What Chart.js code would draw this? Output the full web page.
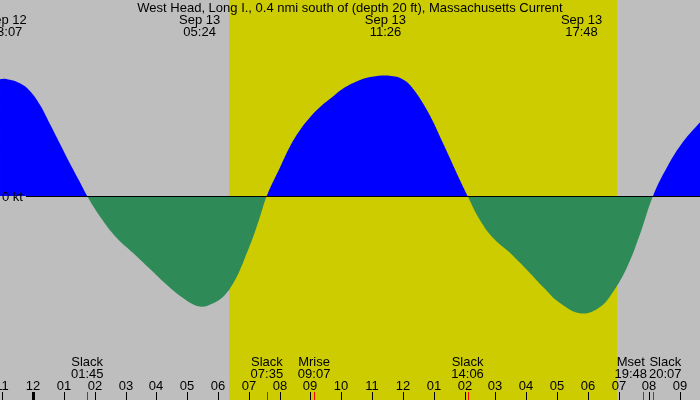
<!DOCTYPE html>
<html>
<head>
<meta charset="utf-8">
<script src="https://cdn.jsdelivr.net/npm/chart.js@4/dist/chart.umd.min.js"></script>
<style>
  html, body { margin: 0; padding: 0; background: #bebebe; }
  canvas { display: block; }
</style>
</head>
<body>
<canvas id="tide" width="700" height="400"></canvas>
<script>
// Current speed (kt), hours from Sep 13 00:00
const curveHours = [-1.08, -0.88, -0.43, -0.11, 0.22, 0.54, 0.87, 1.19, 1.52, 1.75,
                    2.17, 2.71, 3.24, 3.79, 4.34, 4.86, 5.40, 5.84, 6.22, 6.49, 6.71, 6.93, 7.14, 7.36, 7.58,
                    8.02, 8.33, 8.66, 8.98, 9.31, 9.73, 10.06, 10.61, 11.00, 11.43, 11.68, 11.91, 12.23, 12.78,
                    13.30, 13.85, 14.10,
                    14.50, 14.93, 15.48, 16.03, 16.55, 17.10, 17.80, 18.40, 18.82, 19.28, 19.70, 20.12,
                    20.58, 21.09, 21.65];
const curveKnots = [1.167, 1.17, 1.127, 1.05, 0.91, 0.72, 0.52, 0.325, 0.135, 0,
                    -0.207, -0.42, -0.57, -0.73, -0.89, -1.02, -1.105, -1.073, -0.99, -0.873, -0.74, -0.573, -0.407, -0.207, 0,
                    0.293, 0.493, 0.66, 0.785, 0.89, 0.995, 1.075, 1.16, 1.193, 1.205, 1.197, 1.18, 1.11, 0.86,
                    0.53, 0.16, 0,
                    -0.24, -0.42, -0.57, -0.74, -0.91, -1.07, -1.175, -1.11, -0.96, -0.71, -0.38, 0,
                    0.29, 0.54, 0.74];

// max flood / ebb labels on top
const peakDates = ['Sep 12', 'Sep 13', 'Sep 13', 'Sep 13'];
const peakTimes = ['23:07', '05:24', '11:26', '17:48'];

// slack water and moon events on the bottom
const eventNames = ['Slack', 'Slack', 'Mrise', 'Slack', 'Mset', 'Slack'];
const eventTimes = ['01:45', '07:35', '09:07', '14:06', '19:48', '20:07'];

const sunrise = '06:21';
const sunset  = '18:57';

const hourTickValues = [-1, 0, 1, 2, 3, 4, 5, 6, 7, 8, 9, 10, 11, 12, 13, 14, 15, 16, 17, 18, 19, 20, 21];
const hourTickLabels = ['11', '12', '01', '02', '03', '04', '05', '06', '07', '08', '09', '10',
                        '11', '12', '01', '02', '03', '04', '05', '06', '07', '08', '09'];

const title = 'West Head, Long I., 0.4 nmi south of (depth 20 ft), Massachusetts Current';

const FONT = '13px "Liberation Sans", Arial, sans-serif';

function toHours(t, date) {
    var parts = t.split(':');
    var h = parseInt(parts[0], 10) + parseInt(parts[1], 10) / 60;
    if (date === 'Sep 12') h -= 24;
    return h;
}

var points = [];
for (var i = 0; i < curveHours.length; i++) {
    points.push({ x: curveHours[i], y: curveKnots[i] });
}

// gray night, yellow day
const backgroundPlugin = {
    id: 'background',
    beforeDraw: function (chart) {
        var ctx = chart.ctx;
        var x = chart.scales.x;
        ctx.save();
        ctx.fillStyle = '#bebebe';
        ctx.fillRect(0, 0, chart.width, chart.height);
        var x1 = Math.round(x.getPixelForValue(toHours(sunrise)));
        var x2 = Math.round(x.getPixelForValue(toHours(sunset)));
        ctx.fillStyle = '#cccc00';
        ctx.fillRect(x1, 0, x2 - x1, chart.height);
        ctx.restore();
    }
};

// zero line, labels and the hour ticks
const overlayPlugin = {
    id: 'overlay',
    afterDatasetsDraw: function (chart) {
        var ctx = chart.ctx;
        var x = chart.scales.x;
        var y = chart.scales.y;
        var y0 = Math.round(y.getPixelForValue(0));

        ctx.save();
        ctx.fillStyle = '#000';
        ctx.font = FONT;

        // zero line
        ctx.fillRect(26, y0, chart.width - 26, 1);

        ctx.textAlign = 'left';
        ctx.textBaseline = 'middle';
        ctx.fillText('0 kt', 2, y0 + 1);

        // title
        ctx.textAlign = 'center';
        ctx.textBaseline = 'alphabetic';
        ctx.fillText(title, chart.width / 2, 12);

        // peaks
        for (var i = 0; i < peakTimes.length; i++) {
            var px = x.getPixelForValue(toHours(peakTimes[i], peakDates[i]));
            ctx.fillText(peakDates[i], px, 24);
            ctx.fillText(peakTimes[i], px, 36);
        }

        // events, pushed apart when they overlap
        var labels = [];
        for (var i = 0; i < eventNames.length; i++) {
            var ex = x.getPixelForValue(toHours(eventTimes[i]));
            var w = Math.max(ctx.measureText(eventNames[i]).width, ctx.measureText(eventTimes[i]).width);
            labels.push({ x: ex, tick: ex, w: w });
        }
        for (var i = 1; i < labels.length; i++) {
            var a = labels[i - 1], b = labels[i];
            var gap = 2;
            if (a.x + a.w / 2 + gap > b.x - b.w / 2) {
                var mid = (a.x + b.x) / 2;
                a.x = mid - gap / 2 - a.w / 2;
                b.x = mid + gap / 2 + b.w / 2;
            }
        }
        for (var i = 0; i < labels.length; i++) {
            ctx.fillText(eventNames[i], labels[i].x, 366);
            ctx.fillText(eventTimes[i], labels[i].x, 378);
        }

        // hour ticks
        for (var i = 0; i < hourTickValues.length; i++) {
            var hx = Math.round(x.getPixelForValue(hourTickValues[i]));
            ctx.fillText(hourTickLabels[i], hx, 390);
            if (hourTickValues[i] === 0) {
                ctx.fillRect(hx - 1, 392, 3, 8);
            } else {
                ctx.fillRect(hx, 392, 1, 8);
            }
        }

        // event ticks
        ctx.fillStyle = '#ff0000';
        for (var i = 0; i < labels.length; i++) {
            ctx.fillRect(Math.round(labels[i].tick), 392, 1, 8);
        }
        ctx.restore();
    }
};

var chartConfig = {
    type: 'line',
    data: {
        datasets: [{
            data: points,
            fill: { target: 'origin', above: '#0000ff', below: '#2e8b57' },
            borderWidth: 0,
            borderColor: 'rgba(0,0,0,0)',
            pointRadius: 0,
            tension: 0.4
        }]
    },
    options: {
        responsive: false,
        animation: false,
        devicePixelRatio: 1,
        layout: { padding: 0 },
        plugins: {
            legend: { display: false },
            tooltip: { enabled: false }
        },
        scales: {
            x: { type: 'linear', display: false, min: -1.081, max: 21.646 },
            y: { type: 'linear', display: false, min: -2.04, max: 1.96 }
        }
    },
    plugins: [backgroundPlugin, overlayPlugin]
};

new Chart(document.getElementById('tide').getContext('2d'), chartConfig);
</script>
</body>
</html>
